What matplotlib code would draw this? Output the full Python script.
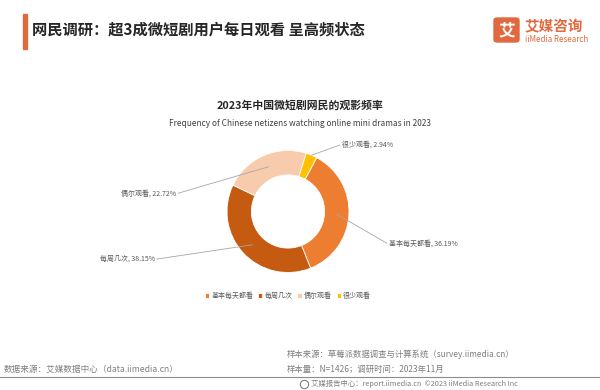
"""iiMedia style donut: frequency of mini drama viewing, 2023."""

import matplotlib

matplotlib.use("Agg")
import matplotlib.pyplot as plt
from matplotlib.patches import FancyBboxPatch, Rectangle
import numpy as np

plt.rcParams["font.family"] = ["Noto Sans CJK SC", "DejaVu Sans"]

CATEGORIES = ["基本每天都看", "每周几次", "偶尔观看", "很少观看"]
SHARES = [36.19, 38.15, 22.72, 2.94]
COLORS = ["#ED7D31", "#C55A11", "#F8CBAD", "#FFC000"]

# where each leader line ends, in pie radii (x, y)
LABEL_ENDS = [(1.62, -0.52), (-2.15, -0.78), (-1.80, 0.30), (0.85, 1.09)]
LINE_START_R = [0.8, 0.8, 0.8, 1.0]

W, H = 600, 390
ORANGE = "#E0693F"
GREY = "#7F7F7F"


def fx(px):
    return px / W


def fy(py):
    return 1 - py / H


fig = plt.figure(figsize=(6, 3.9), dpi=100)
fig.patch.set_facecolor("white")

# header
fig.patches.append(Rectangle((fx(23), fy(49)), fx(4), 35 / H,
                             transform=fig.transFigure, color=ORANGE))
fig.text(fx(32), fy(30), "网民调研：超3成微短剧用户每日观看 呈高频状态",
         fontsize=11, fontweight="bold", color="#262626", va="center")

# logo
fig.patches.append(FancyBboxPatch((fx(494), fy(42)), fx(25), 24 / H,
                                  boxstyle="round,pad=0,rounding_size=0.006",
                                  transform=fig.transFigure, color=ORANGE))
fig.text(fx(506.5), fy(30), "艾", fontsize=12, fontweight="bold",
         color="white", ha="center", va="center")
fig.text(fx(525), fy(26.5), "艾媒咨询", fontsize=10.5, fontweight="bold",
         color=ORANGE, va="center")
fig.text(fx(525), fy(39.5), "iiMedia Research", fontsize=5.8,
         color=ORANGE, va="center")

# chart titles
fig.text(0.5, fy(105), "2023年中国微短剧网民的观影频率", fontsize=7.8,
         fontweight="bold", color="#262626", ha="center", va="center")
fig.text(0.5, fy(123), "Frequency of Chinese netizens watching online mini dramas in 2023",
         fontsize=6, color="#404040", ha="center", va="center")

# donut
cx, cy, r = 288, 211.5, 61
side = 2.5 * r
ax = fig.add_axes([fx(cx - side / 2), fy(cy + side / 2), side / W, side / H])
wedges, _ = ax.pie(SHARES, colors=COLORS, startangle=62, counterclock=False,
                   radius=1, wedgeprops=dict(width=0.4, edgecolor="white", linewidth=0.6))
ax.set_xlim(-1.25, 1.25)
ax.set_ylim(-1.25, 1.25)
ax.set_aspect("equal")
ax.axis("off")

for w, name, val, end, r0 in zip(wedges, CATEGORIES, SHARES, LABEL_ENDS, LINE_START_R):
    mid = np.deg2rad((w.theta1 + w.theta2) / 2)
    start = (r0 * np.cos(mid), r0 * np.sin(mid))
    ax.plot([start[0], end[0]], [start[1], end[1]], color="#A6A6A6",
            lw=0.6, clip_on=False)
    ha = "left" if end[0] > 0 else "right"
    pad = 0.03 if end[0] > 0 else -0.03
    ax.text(end[0] + pad, end[1], f"{name}, {val:.2f}%", fontsize=5,
            color="#595959", ha=ha, va="center", clip_on=False)

fig.legend(wedges, CATEGORIES, loc="center", bbox_to_anchor=(fx(288), fy(296)),
           ncol=4, frameon=False, fontsize=5, labelcolor="#595959",
           handlelength=0.6, handleheight=0.6, handletextpad=0.3,
           columnspacing=0.7)

# footer
fig.text(fx(4), fy(369), "数据来源：艾媒数据中心（data.iimedia.cn）",
         fontsize=6.2, color=GREY, va="center")
fig.text(fx(287), fy(354), "样本来源：草莓派数据调查与计算系统（survey.iimedia.cn）",
         fontsize=6, color=GREY, va="center")
fig.text(fx(287), fy(369.5), "样本量：N=1426；调研时间：2023年11月",
         fontsize=6, color=GREY, va="center")
fig.add_artist(plt.Line2D([0, 1], [fy(377), fy(377)], transform=fig.transFigure,
                          color="#8C8C8C", lw=0.8))
fig.add_artist(plt.Line2D([fx(304)], [fy(384)], transform=fig.transFigure,
                          marker="o", markersize=6, markerfacecolor="none",
                          markeredgecolor=GREY, markeredgewidth=0.8))
fig.text(fx(311), fy(384), "艾媒报告中心：report.iimedia.cn  ©2023 iiMedia Research Inc",
         fontsize=5.3, color=GREY, va="center")

fig.savefig("out.png", dpi=100, facecolor="white")
